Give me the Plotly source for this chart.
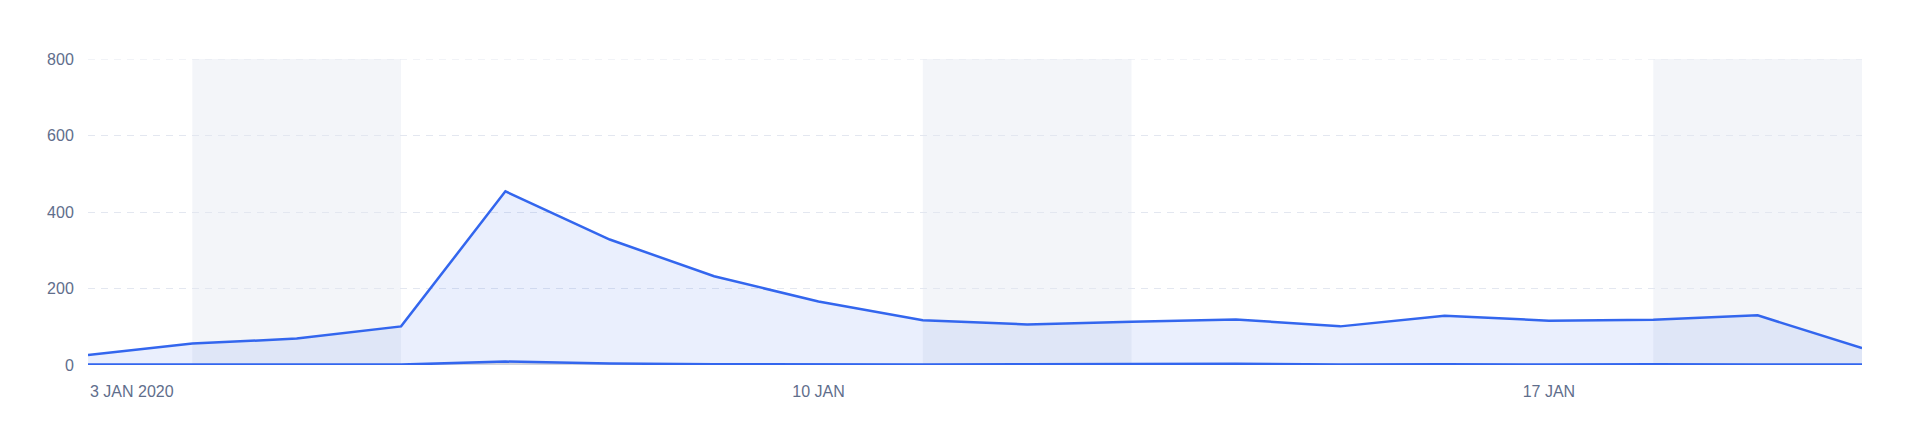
import datetime as dt
import plotly.graph_objects as go

# ---- data ----
dates = ["2020-01-03", "2020-01-04", "2020-01-05", "2020-01-06", "2020-01-07",
         "2020-01-08", "2020-01-09", "2020-01-10", "2020-01-11", "2020-01-12",
         "2020-01-13", "2020-01-14", "2020-01-15", "2020-01-16", "2020-01-17",
         "2020-01-18", "2020-01-19", "2020-01-20"]
upper_values = [26, 56, 69, 101, 454, 328, 232, 166, 117, 106,
                113, 119, 101, 129, 116, 118, 130, 44]
lower_values = [1, 1, 0, 1, 9, 4, 2, 1, 1, 2,
                3, 3, 1, 2, 1, 2, 1, 1]
tick_dates = ["2020-01-03", "2020-01-10", "2020-01-17"]
tick_labels = ["3 JAN 2020", "10 JAN", "17 JAN"]
y_ticks = [0, 200, 400, 600, 800]

LINE = "#3366ee"
TEXT = "#5f6e8c"
GRID = "#e3e7f0"
FONT = "Liberation Sans, Arial, sans-serif"

fig = go.Figure()
fig.add_trace(go.Scatter(
    x=dates, y=lower_values, mode="lines",
    line=dict(color=LINE, width=2.5),
    fill="tozeroy", fillcolor="rgba(120,130,160,0.35)",
    hoverinfo="skip", showlegend=False))
fig.add_trace(go.Scatter(
    x=dates, y=upper_values, mode="lines",
    line=dict(color=LINE, width=2.5),
    fill="tonexty", fillcolor="rgba(51,102,238,0.10)",
    hoverinfo="skip", showlegend=False))

# weekend shading (Saturday -> Monday), derived from the dates
last = dt.date.fromisoformat(dates[-1])
for d in dates:
    day = dt.date.fromisoformat(d)
    if day.weekday() == 5:
        end = min(day + dt.timedelta(days=2), last)
        fig.add_shape(type="rect", xref="x", yref="paper",
                      x0=day.isoformat(), x1=end.isoformat(), y0=0, y1=1,
                      fillcolor="#f3f5f9", line_width=0, layer="below")

# top gridline (at the edge of the range)
fig.add_shape(type="line", xref="x", yref="y", x0=dates[0], x1=dates[-1],
              y0=y_ticks[-1], y1=y_ticks[-1],
              line=dict(color=GRID, width=1, dash="7px,6px"), layer="below")

# first tick label, kept inside the plot (left aligned)
fig.add_annotation(x=tick_dates[0], xref="x", y=0, yref="paper",
                   text=tick_labels[0], showarrow=False,
                   xanchor="left", yanchor="middle", yshift=-26,
                   font=dict(family=FONT, size=16, color=TEXT))

# the page body has an 8px margin, margins compensate for it
fig.update_layout(
    width=1920, height=444,
    margin=dict(l=80, r=66, t=51, b=87),
    paper_bgcolor="white", plot_bgcolor="white",
    font=dict(family=FONT, size=16, color=TEXT),
    xaxis=dict(range=[dates[0], dates[-1]], autorange=False,
               tickvals=tick_dates[1:],
               ticktext=tick_labels[1:], showgrid=False, zeroline=False,
               ticks="outside", ticklen=12, tickcolor="rgba(0,0,0,0)",
               showline=False, tickfont=dict(size=16, color=TEXT)),
    yaxis=dict(range=[0, 800], autorange=False, tickvals=y_ticks, showgrid=True,
               gridcolor=GRID, griddash="7px,6px", gridwidth=1,
               zeroline=False, ticks="outside", ticklen=10,
               tickcolor="rgba(0,0,0,0)", tickfont=dict(size=16, color=TEXT)),
)

fig.write_html("out.html")
